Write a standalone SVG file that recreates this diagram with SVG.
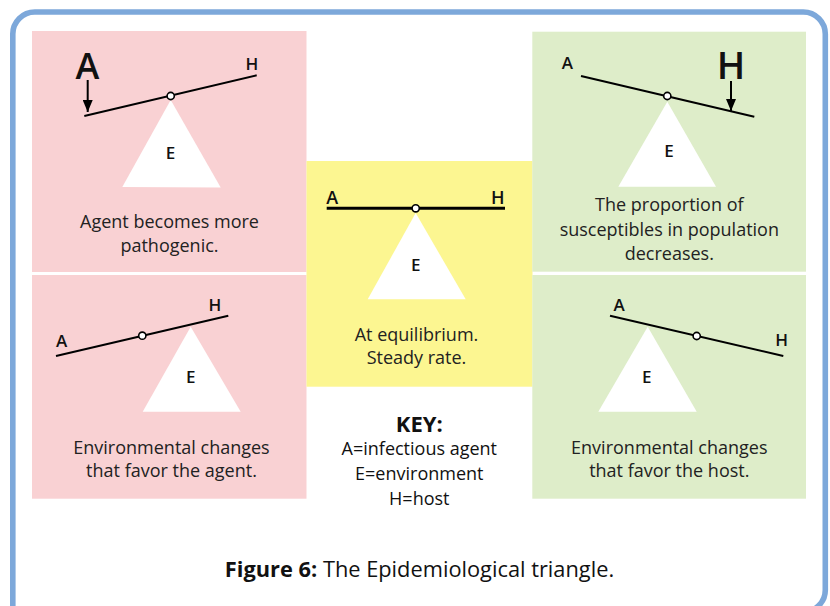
<svg xmlns="http://www.w3.org/2000/svg" width="830" height="606" viewBox="0 0 830 606">
<style>
.pink{fill:#F9D1D3}
.yellow{fill:#FCF691}
.green{fill:#DEEDC9}
.tri{fill:#FFFFFF}
.beam{stroke:#000;stroke-width:2;fill:none;stroke-linecap:butt}
.piv{fill:#FFF;stroke:#000;stroke-width:1.6}
.lbl{font-family:"Open Sans","DejaVu Sans",sans-serif;font-weight:600;font-size:17px;fill:#111;text-anchor:middle}
.big{font-family:"Open Sans","DejaVu Sans",sans-serif;font-weight:600;font-size:36px;fill:#111;text-anchor:middle}
.txt{font-family:"Open Sans","DejaVu Sans",sans-serif;font-size:18px;fill:#222;text-anchor:middle}
.key{font-family:"Open Sans","DejaVu Sans",sans-serif;font-size:22px;font-weight:700;fill:#111;text-anchor:middle}
.cap{font-family:"Open Sans","DejaVu Sans",sans-serif;font-size:21.8px;fill:#111;text-anchor:middle}
</style>
<defs>
<marker id="ah" markerUnits="userSpaceOnUse" markerWidth="12" markerHeight="10" viewBox="0 0 12 10" refX="12" refY="5" orient="auto">
<path d="M0,0 L12,5 L0,10 Z" fill="#000"/>
</marker>
</defs>
<rect width="830" height="606" fill="#FFFFFF"/>
<path id="frame" d="M12.8,620 L12.8,34 A22,22 0 0 1 34.8,12 L803.3,12 A22,22 0 0 1 825.3,34 L825.3,590 A22,22 0 0 1 803.3,612" fill="none" stroke="#7DA8DA" stroke-width="5.6"/>

<g id="panel-agent-pathogenic">
<rect class="pink" x="32" y="31" width="274.5" height="241"/>
<polygon class="tri" points="170.7,100 122.3,187 220.7,187.5"/>
<line class="beam" x1="84.3" y1="116" x2="256.7" y2="75.3"/>
<circle class="piv" cx="170.7" cy="96" r="3.6"/>
<text class="big" x="87.5" y="79">A</text>
<text class="lbl" x="252" y="70">H</text>
<text class="lbl" x="170.5" y="158.5">E</text>
<text class="txt" x="169.5" y="228">Agent becomes more</text>
<text class="txt" x="169.5" y="252">pathogenic.</text>
</g>

<g id="panel-env-agent">
<rect class="pink" x="32" y="275" width="274.5" height="223.7"/>
<polygon class="tri" points="190.7,326.7 142.7,411.7 240.7,411.7"/>
<line class="beam" x1="56" y1="356" x2="228.3" y2="315.7"/>
<circle class="piv" cx="142.3" cy="335.7" r="3.6"/>
<text class="lbl" x="61.7" y="346.7">A</text>
<text class="lbl" x="215" y="310.7">H</text>
<text class="lbl" x="190.7" y="383.3">E</text>
<text class="txt" x="171.5" y="453.5">Environmental changes</text>
<text class="txt" x="171.5" y="477">that favor the agent.</text>
</g>

<g id="panel-equilibrium">
<rect class="yellow" x="306.5" y="161" width="226" height="225.7"/>
<polygon class="tri" points="415.7,213 367.7,299.3 465.7,299.3"/>
<line class="beam" x1="326.7" y1="208.3" x2="505" y2="208.3" style="stroke-width:3"/>
<circle class="piv" cx="415.7" cy="208.3" r="3.6"/>
<text class="lbl" x="332.3" y="204.3" style="font-size:18px">A</text>
<text class="lbl" x="497.7" y="204.3" style="font-size:18px">H</text>
<text class="lbl" x="415.7" y="270.7">E</text>
<text class="txt" x="416.5" y="340.5">At equilibrium.</text>
<text class="txt" x="416.5" y="363.5">Steady rate.</text>
</g>

<g id="panel-susceptibles">
<rect class="green" x="532.3" y="31.7" width="273.7" height="240"/>
<polygon class="tri" points="667.3,101.7 618.3,186.7 716,186.7"/>
<line class="beam" x1="581" y1="76" x2="754.3" y2="116.7"/>
<circle class="piv" cx="667.3" cy="96" r="3.6"/>
<text class="lbl" x="567.3" y="69.3">A</text>
<text class="big" x="731" y="79.3" style="font-size:38px">H</text>
<text class="lbl" x="669" y="157.3">E</text>
<text class="txt" x="669.3" y="211">The proportion of</text>
<text class="txt" x="669.3" y="235.5">susceptibles in population</text>
<text class="txt" x="669.3" y="260">decreases.</text>
</g>

<g id="panel-env-host">
<rect class="green" x="532.3" y="275" width="273.7" height="223.7"/>
<polygon class="tri" points="647.7,326.7 598.3,411.7 696.7,411.7"/>
<line class="beam" x1="610" y1="315.7" x2="783.3" y2="356"/>
<circle class="piv" cx="696.7" cy="336" r="3.6"/>
<text class="lbl" x="619" y="310.7">A</text>
<text class="lbl" x="781.7" y="346">H</text>
<text class="lbl" x="646.7" y="382.7">E</text>
<text class="txt" x="669.3" y="453.5">Environmental changes</text>
<text class="txt" x="669.3" y="477">that favor the host.</text>
</g>

<g id="key">
<text class="key" x="419.3" y="431.7">KEY:</text>
<text class="txt" x="419.3" y="455" style="fill:#111">A=infectious agent</text>
<text class="txt" x="419.3" y="480" style="fill:#111">E=environment</text>
<text class="txt" x="419.3" y="505" style="fill:#111">H=host</text>
</g>

<g id="connectors">
<line x1="87.7" y1="80" x2="87.7" y2="112" stroke="#000" stroke-width="2" marker-end="url(#ah)"/>
<line x1="731" y1="81" x2="731" y2="111" stroke="#000" stroke-width="2" marker-end="url(#ah)"/>
</g>

<text class="cap" x="419.5" y="577.3"><tspan font-weight="700">Figure 6:</tspan> The Epidemiological triangle.</text>
</svg>
